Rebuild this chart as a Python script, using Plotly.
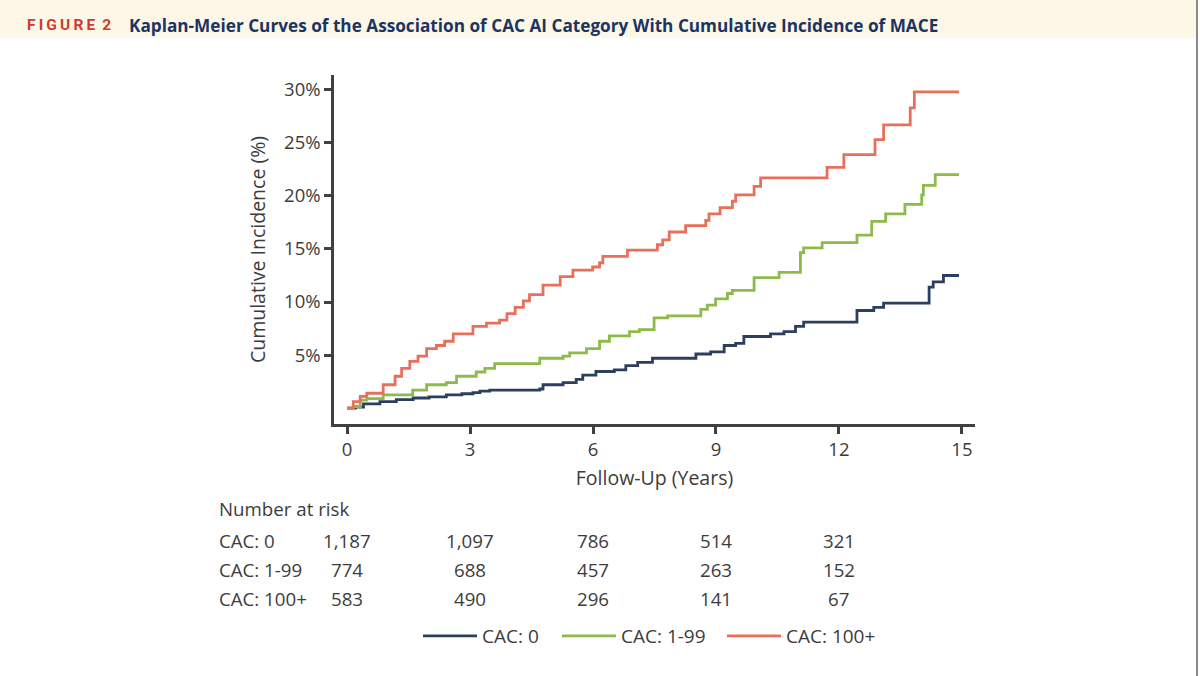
import plotly.graph_objects as go

# step curves (years, cumulative incidence %)
cac0_t = [0, 0.2, 0.4, 0.8, 1.2, 1.61, 2.0, 2.42, 2.8, 3.07, 3.24, 3.48, 4.7, 4.78, 5.27,
          5.59, 5.75, 6.07, 6.52, 6.8, 7.09, 7.45, 8.51, 8.87, 9.2, 9.48, 9.68, 10.33, 10.66,
          10.94, 11.14, 12.44, 12.85, 13.09, 14.2, 14.3, 14.55, 14.93]
cac0_v = [0, 0.1, 0.4, 0.6, 0.8, 0.95, 1.05, 1.25, 1.35, 1.45, 1.6, 1.7, 1.8, 2.2, 2.4,
          2.7, 3.1, 3.45, 3.6, 4.0, 4.3, 4.7, 5.1, 5.3, 5.9, 6.1, 6.75, 7.0, 7.2,
          7.7, 8.1, 9.2, 9.5, 9.9, 11.4, 11.9, 12.5, 12.5]

cac1_t = [0, 0.15, 0.32, 0.48, 0.88, 1.6, 1.94, 2.42, 2.67, 3.15, 3.36, 3.6, 4.7, 5.27, 5.43,
          5.84, 6.16, 6.4, 6.89, 7.13, 7.49, 7.82, 8.63, 8.79, 8.99, 9.28, 9.4, 9.93, 10.54,
          11.06, 11.14, 11.59, 12.44, 12.8, 13.14, 13.61, 14.02, 14.06, 14.35, 14.93]
cac1_v = [0, 0.15, 0.75, 0.9, 1.25, 1.7, 2.2, 2.4, 3.0, 3.4, 3.75, 4.2, 4.7, 4.9, 5.2,
          5.6, 6.3, 6.8, 7.2, 7.4, 8.5, 8.7, 9.3, 9.7, 10.3, 10.8, 11.1, 12.3, 12.8,
          14.65, 15.1, 15.6, 16.3, 17.6, 18.3, 19.2, 20.1, 21.0, 22.0, 22.0]

cac100_t = [0, 0.15, 0.32, 0.48, 0.88, 1.17, 1.33, 1.53, 1.73, 1.94, 2.18, 2.38, 2.59, 3.07,
            3.4, 3.72, 3.9, 4.1, 4.3, 4.45, 4.78, 5.2, 5.51, 5.99, 6.16, 6.24, 6.84, 7.57,
            7.7, 7.86, 8.26, 8.75, 8.83, 9.1, 9.4, 9.48, 9.93, 10.09, 11.71, 12.12, 12.88,
            13.09, 13.74, 13.84, 14.93]
cac100_v = [0, 0.6, 1.1, 1.4, 2.2, 3.0, 3.75, 4.4, 4.9, 5.6, 5.9, 6.3, 7.0, 7.7,
            8.0, 8.3, 8.9, 9.5, 10.1, 10.7, 11.6, 12.4, 13.0, 13.3, 13.7, 14.3, 14.9, 15.4,
            15.85, 16.6, 17.2, 17.7, 18.3, 18.9, 19.5, 20.1, 20.9, 21.7, 22.7, 23.9, 25.3,
            26.7, 28.3, 29.8, 29.8]

groups = ["CAC: 0", "CAC: 1-99", "CAC: 100+"]
colors = ["#2c3f5e", "#8dbb4b", "#e8705b"]

# number at risk table
risk_times = [0, 3, 6, 9, 12]
risk_cac0 = ["1,187", "1,097", "786", "514", "321"]
risk_cac1 = ["774", "688", "457", "263", "152"]
risk_cac100 = ["583", "490", "296", "141", "67"]

x_ticks = [0, 3, 6, 9, 12, 15]
y_ticks = [5, 10, 15, 20, 25, 30]
y_labels = ["5%", "10%", "15%", "20%", "25%", "30%"]

W, H = 1200, 676
L, R, T, B = 334, 975, 75, 424   # plot area in pixels


def px(x):
    return (x - L) / (R - L)


def py(y):
    return (B - y) / (B - T)


legend_ids = ["legend", "legend2", "legend3"]
legend_left = [418, 557, 722]   # pixel x of each legend box

fig = go.Figure()
for name, t, v, c, lg in zip(groups, [cac0_t, cac1_t, cac100_t],
                             [cac0_v, cac1_v, cac100_v], colors, legend_ids):
    fig.add_trace(go.Scatter(x=t, y=v, name=name, mode="lines", legend=lg,
                             line=dict(color=c, width=2.8, shape="hv")))

font = "Open Sans"
txt = "#3c3c3c"
tsize = 18.7

anns = []
# header
sp = "\u2009"
anns.append(dict(x=px(25), y=py(25), xref="paper", yref="paper", xanchor="left", yanchor="middle",
                 text="<b>" + sp.join("FIGURE") + sp + " 2</b>", showarrow=False,
                 font=dict(family="Roboto", size=15.5, color="#cf3b2f")))
anns.append(dict(x=px(127), y=py(25), xref="paper", yref="paper", xanchor="left", yanchor="middle",
                 text="<b>Kaplan-Meier Curves of the Association of CAC AI Category With "
                      "Cumulative Incidence of MACE</b>",
                 showarrow=False, font=dict(family="Open Sans", size=17.2, color="#1c3461")))
# risk table
anns.append(dict(x=px(217), y=py(508), xref="paper", yref="paper", xanchor="left",
                 yanchor="middle", text="Number at risk", showarrow=False,
                 font=dict(family=font, size=tsize, color=txt)))
for row, (name, vals) in enumerate(zip(groups, [risk_cac0, risk_cac1, risk_cac100])):
    yy = py(540 + row * 29)
    anns.append(dict(x=px(217), y=yy, xref="paper", yref="paper", xanchor="left",
                     yanchor="middle", text=name, showarrow=False,
                     font=dict(family=font, size=tsize, color=txt)))
    for t, val in zip(risk_times, vals):
        anns.append(dict(x=t, y=yy, xref="x", yref="paper", xanchor="center",
                         yanchor="middle", text=val, showarrow=False,
                         font=dict(family=font, size=tsize, color=txt)))

shapes = [
    dict(type="rect", xref="paper", yref="paper", x0=px(0), x1=px(1196), y0=py(0), y1=py(38),
         fillcolor="#fdf7e8", line=dict(width=0), layer="below"),
    dict(type="line", xref="paper", yref="paper", x0=px(1197), x1=px(1197), y0=py(0), y1=py(676),
         line=dict(color="#8a8a8a", width=2)),
]

legends = {}
for lg, left in zip(legend_ids, legend_left):
    legends[lg] = dict(orientation="h", x=px(left), y=py(636), xanchor="left",
                       yanchor="middle", font=dict(family=font, size=19, color=txt),
                       itemwidth=54, bgcolor="rgba(0,0,0,0)")

fig.update_layout(
    width=W, height=H,
    margin=dict(l=L, r=W - R, t=T, b=H - B),
    paper_bgcolor="white", plot_bgcolor="white",
    font=dict(family=font, size=18, color=txt),
    showlegend=True,
    annotations=anns,
    shapes=shapes,
    **legends,
)
fig.update_xaxes(range=[-0.32, 15.32], tickvals=x_ticks, showgrid=False, zeroline=False,
                 showline=True, linecolor="#404040", linewidth=2.5,
                 ticks="outside", ticklen=7, tickwidth=2.5, tickcolor="#404040",
                 tickfont=dict(size=18.5, color=txt),
                 title=dict(text="Follow-Up (Years)", standoff=12,
                            font=dict(family=font, size=19.5, color=txt, weight=500)))
fig.update_yaxes(range=[-1.5, 31.4], tickvals=y_ticks, ticktext=y_labels, showgrid=False,
                 zeroline=False, showline=True, linecolor="#404040", linewidth=2.5,
                 ticks="outside", ticklen=7, tickwidth=2.5, tickcolor="#404040",
                 tickfont=dict(size=18.5, color=txt),
                 title=dict(text="Cumulative Incidence (%)", standoff=14,
                            font=dict(family=font, size=19.5, color=txt)))

# the page body has a default 8px margin; drop it so the figure sits at the window origin
fig.write_html("out.html", config={"displayModeBar": False},
               post_script="document.body.style.margin='0';")
